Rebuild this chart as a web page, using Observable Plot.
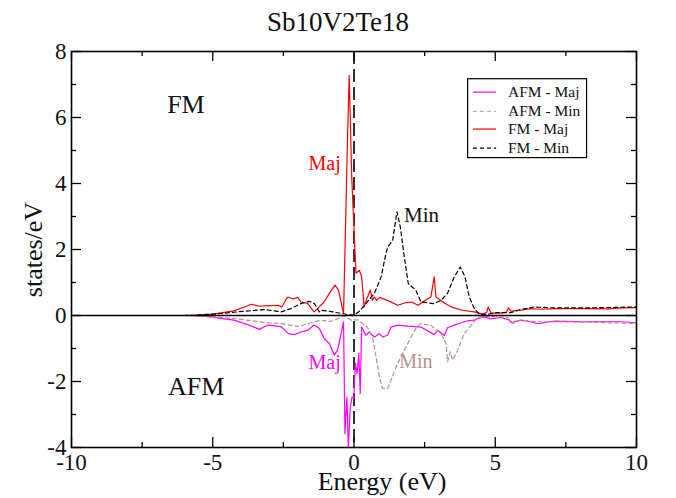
<!DOCTYPE html>
<html><head><meta charset="utf-8">
<script src="https://cdn.jsdelivr.net/npm/d3@7"></script>
<script src="https://cdn.jsdelivr.net/npm/@observablehq/plot@0.6"></script>
<style>html,body{margin:0;padding:0;background:#fff} svg text{font-family:"Liberation Serif","Times New Roman",serif}</style>
</head><body><div id="chart"></div>
<script>
// ---- data ----
const fmMajE = [-10,-6.0,-5.6,-5.0,-4.25,-3.9,-3.64,-3.36,-3.0,-2.7,-2.55,-2.4,-2.34,-2.15,-1.99,-1.88,-1.64,-1.5,-1.41,-1.23,-1.06,-0.85,-0.67,-0.55,-0.37,-0.22,-0.21,-0.17,-0.08,0.07,0.19,0.27,0.36,0.45,0.58,0.65,0.72,0.8,0.9,1.0,1.2,1.55,1.8,2.03,2.27,2.5,2.72,2.84,2.9,3.2,3.45,3.82,4.26,4.55,4.7,4.75,4.85,5.2,5.4,5.46,5.56,5.9,6.26,6.6,7.3,8.0,9.0,9.5,10];
const fmMajV = [0,0,0.01,0.04,0.14,0.25,0.34,0.28,0.3,0.31,0.26,0.5,0.56,0.5,0.55,0.41,0.37,0.2,0.11,0.26,0.41,0.7,0.92,0.77,0.06,5.7,6.0,7.28,4.2,1.28,1.37,1.17,0.26,0.5,0.77,0.46,0.56,0.46,0.55,0.52,0.45,0.31,0.38,0.41,0.31,0.45,0.56,1.17,0.56,0.38,0.26,0.16,0.11,0.04,0.1,0.26,0.07,0.07,0.1,0.23,0.13,0.16,0.21,0.19,0.21,0.21,0.2,0.23,0.24];

const fmMinE = [-10,-6.0,-5.6,-4.7,-3.88,-3.17,-2.58,-2.23,-1.88,-1.58,-1.4,-1.23,-1.17,-0.81,-0.45,0.0,0.18,0.42,0.72,0.96,1.13,1.2,1.37,1.52,1.64,1.78,1.92,2.19,2.37,2.84,3.08,3.31,3.55,3.76,3.93,4.08,4.26,4.43,4.73,5.08,5.56,5.9,6.38,7.09,8.27,10];
const fmMinV = [0,0,0.005,0.06,0.13,0.18,0.11,0.21,0.36,0.43,0.36,0.11,0.16,0.12,0.06,0.01,0.12,0.36,0.67,1.17,1.88,2.08,2.28,3.14,2.68,1.78,0.97,0.77,0.41,0.36,0.46,0.67,1.17,1.47,1.17,0.56,0.21,0.04,0.04,0.09,0.09,0.18,0.26,0.23,0.23,0.26];

const afmMajE = [-10,-6.0,-5.4,-4.24,-3.9,-3.64,-3.35,-3.05,-2.58,-2.32,-2.11,-1.88,-1.64,-1.41,-1.23,-1.05,-0.87,-0.7,-0.58,-0.37,-0.32,-0.25,-0.2,-0.13,-0.07,-0.01,0.05,0.11,0.17,0.22,0.27,0.42,0.54,0.72,0.9,1.01,1.19,1.31,1.55,1.9,2.37,2.84,2.96,3.2,3.31,3.55,3.79,4.02,4.26,4.38,4.61,4.85,5.2,5.5,5.56,5.9,6.26,6.5,7.09,8.27,9.45,10];
const afmMajV = [0,0,-0.01,-0.14,-0.24,-0.32,-0.42,-0.29,-0.34,-0.55,-0.58,-0.5,-0.45,-0.29,-0.39,-0.7,-0.85,-1.2,-1.05,-0.19,-3.58,-2.47,-3.98,-2.77,-2.47,-2.52,-1.45,-1.76,-1.15,-2.36,-0.35,-0.6,-0.5,-0.65,-0.55,-0.65,-0.6,-0.35,-0.29,-0.32,-0.35,-0.58,-0.45,-0.6,-0.37,-0.29,-0.22,-0.16,-0.14,-0.09,-0.04,-0.1,-0.06,-0.14,-0.22,-0.14,-0.19,-0.25,-0.17,-0.19,-0.19,-0.22];

const afmMinE = [-10,-6.0,-5.5,-4.24,-3.7,-3.05,-2.58,-2.11,-1.88,-1.52,-1.17,-0.87,-0.7,-0.37,-0.1,0.13,0.31,0.47,0.66,0.78,0.9,1.01,1.19,1.31,1.49,1.72,1.96,2.19,2.37,2.72,3.08,3.26,3.31,3.41,3.49,3.67,3.9,4.14,4.38,4.73,5.08,5.44,5.62,5.9,6.5,8.0,10];
const afmMinV = [0,0,-0.01,-0.09,-0.15,-0.22,-0.24,-0.32,-0.32,-0.22,-0.14,-0.18,-0.15,0,-0.14,-0.13,-0.24,-0.35,-0.65,-1.25,-1.86,-2.21,-2.21,-1.96,-1.56,-1.15,-0.75,-0.39,-0.24,-0.3,-0.55,-0.85,-1.4,-1.1,-1.35,-1.05,-0.55,-0.3,-0.06,-0.02,-0.04,-0.06,-0.24,-0.14,-0.19,-0.2,-0.24];

const xMajor = [-10,-5,0,5,10];
const xMinor = [-7.5,-2.5,2.5,7.5];
const yMajor = [-4,-2,0,2,4,6,8];
const yMinor = [-3,-1,1,3,5,7];

const titleText = "Sb10V2Te18";
const xLabel = "Energy (eV)";
const yLabel = "states/eV";

const annoText  = ["FM","AFM","Maj","Min","Maj","Min"];
const annoX     = [-5.95,-5.59,-1.04,2.39,-1.04,2.19];
const annoY     = [6.4,-2.17,4.6,3.05,-1.43,-1.4];
const annoColor = ["#111","#111","#ff0000","#111","#ff00ff","#bc8f8f"];
const annoSize  = [26,26,20,21,20,20];

const legendLabels = ["AFM - Maj","AFM - Min","FM - Maj","FM - Min"];
const legendColors = ["#ff00ff","#bc8f8f","#ff0000","#000000"];
const legendDash   = [null,"4,3",null,"4,3"];
const legendY      = [6.77,6.19,5.65,5.07];

// ---- build tables ----
const zip = (E, V) => E.map((e, i) => ({e, v: V[i]}));
const fmMaj = zip(fmMajE, fmMajV);
const fmMin = zip(fmMinE, fmMinV);
const afmMaj = zip(afmMajE, afmMajV);
const afmMin = zip(afmMinE, afmMinV);
const annos = annoText.map((t, i) => ({t, x: annoX[i], y: annoY[i], c: annoColor[i], s: annoSize[i]}));
const legend = legendLabels.map((l, i) => ({l, c: legendColors[i], d: legendDash[i], y: legendY[i]}));

const FONT = "Liberation Serif, Times New Roman, serif";
const W = 676, H = 498, mL = 71, mR = 40, mT = 51, mB = 51;
const FW = W - mL - mR, FH = H - mT - mB;

const marks = [
  Plot.ruleX([0], {stroke: "black", strokeWidth: 1.6, strokeDasharray: "13,5"}),
  Plot.line(afmMaj, {x: "e", y: "v", stroke: "#ff00ff", strokeWidth: 1.2}),
  Plot.line(afmMin, {x: "e", y: "v", stroke: "#bc8f8f", strokeWidth: 1.2, strokeDasharray: "4,3"}),
  Plot.line(fmMaj, {x: "e", y: "v", stroke: "#ff0000", strokeWidth: 1.2}),
  Plot.line(fmMin, {x: "e", y: "v", stroke: "black", strokeWidth: 1.2, strokeDasharray: "4,3"}),
  Plot.ruleY([0], {stroke: "black", strokeWidth: 1.6}),
  // inward ticks
  Plot.tickX(xMajor, {x: d => d, insetTop: FH - 10, stroke: "black", strokeWidth: 1.3}),
  Plot.tickX(xMajor, {x: d => d, insetBottom: FH - 10, stroke: "black", strokeWidth: 1.3}),
  Plot.tickX(xMinor, {x: d => d, insetTop: FH - 5, stroke: "black", strokeWidth: 1.3}),
  Plot.tickX(xMinor, {x: d => d, insetBottom: FH - 5, stroke: "black", strokeWidth: 1.3}),
  Plot.tickY(yMajor, {y: d => d, insetRight: FW - 10, stroke: "black", strokeWidth: 1.3}),
  Plot.tickY(yMajor, {y: d => d, insetLeft: FW - 10, stroke: "black", strokeWidth: 1.3}),
  Plot.tickY(yMinor, {y: d => d, insetRight: FW - 5, stroke: "black", strokeWidth: 1.3}),
  Plot.tickY(yMinor, {y: d => d, insetLeft: FW - 5, stroke: "black", strokeWidth: 1.3}),
  Plot.frame({stroke: "black", strokeWidth: 1.6}),
  Plot.axisX({ticks: xMajor, tickSize: 0, tickPadding: 6, fontSize: 23, fontFamily: FONT, fill: "#111", label: null, tickFormat: d => String(d)}),
  Plot.axisY({ticks: yMajor, tickSize: 0, tickPadding: 5, fontSize: 23, fontFamily: FONT, fill: "#111", label: null, tickFormat: d => String(d)}),
  // annotations
  Plot.text(annos, {x: "x", y: "y", text: "t", fill: "c", fontSize: "s", fontFamily: FONT}),
  // legend
  Plot.rect([0], {x1: 4.04, x2: 8.25, y1: 4.77, y2: 7.16, fill: "white", stroke: "black", strokeWidth: 1.2}),
  ...legend.map(r => Plot.link([r], {x1: 4.21, x2: 5.03, y1: "y", y2: "y", stroke: r.c, strokeWidth: 1.2, strokeDasharray: r.d})),
  Plot.text(legend, {x: 5.45, y: "y", text: "l", textAnchor: "start", fontSize: 15.5, fill: "#111", fontFamily: FONT}),
  // title and axis labels
  Plot.text([titleText], {frameAnchor: "top", lineAnchor: "middle", dx: -16, dy: -29, fontSize: 27, fill: "#111", fontFamily: FONT}),
  Plot.text([xLabel], {frameAnchor: "bottom", lineAnchor: "middle", dx: 28, dy: 34, fontSize: 26, fill: "#111", fontFamily: FONT}),
  Plot.text([yLabel], {frameAnchor: "left", lineAnchor: "middle", rotate: -90, dx: -38, fontSize: 26, fill: "#111", textAnchor: "middle", fontFamily: FONT})
];

const plot = Plot.plot({
  width: W, height: H,
  marginLeft: mL, marginRight: mR, marginTop: mT, marginBottom: mB,
  x: {domain: [-10, 10]},
  y: {domain: [-4, 8]},
  style: {fontFamily: FONT, background: "white", color: "#111", overflow: "visible"},
  marks
});
document.getElementById("chart").appendChild(plot);
</script></body></html>
